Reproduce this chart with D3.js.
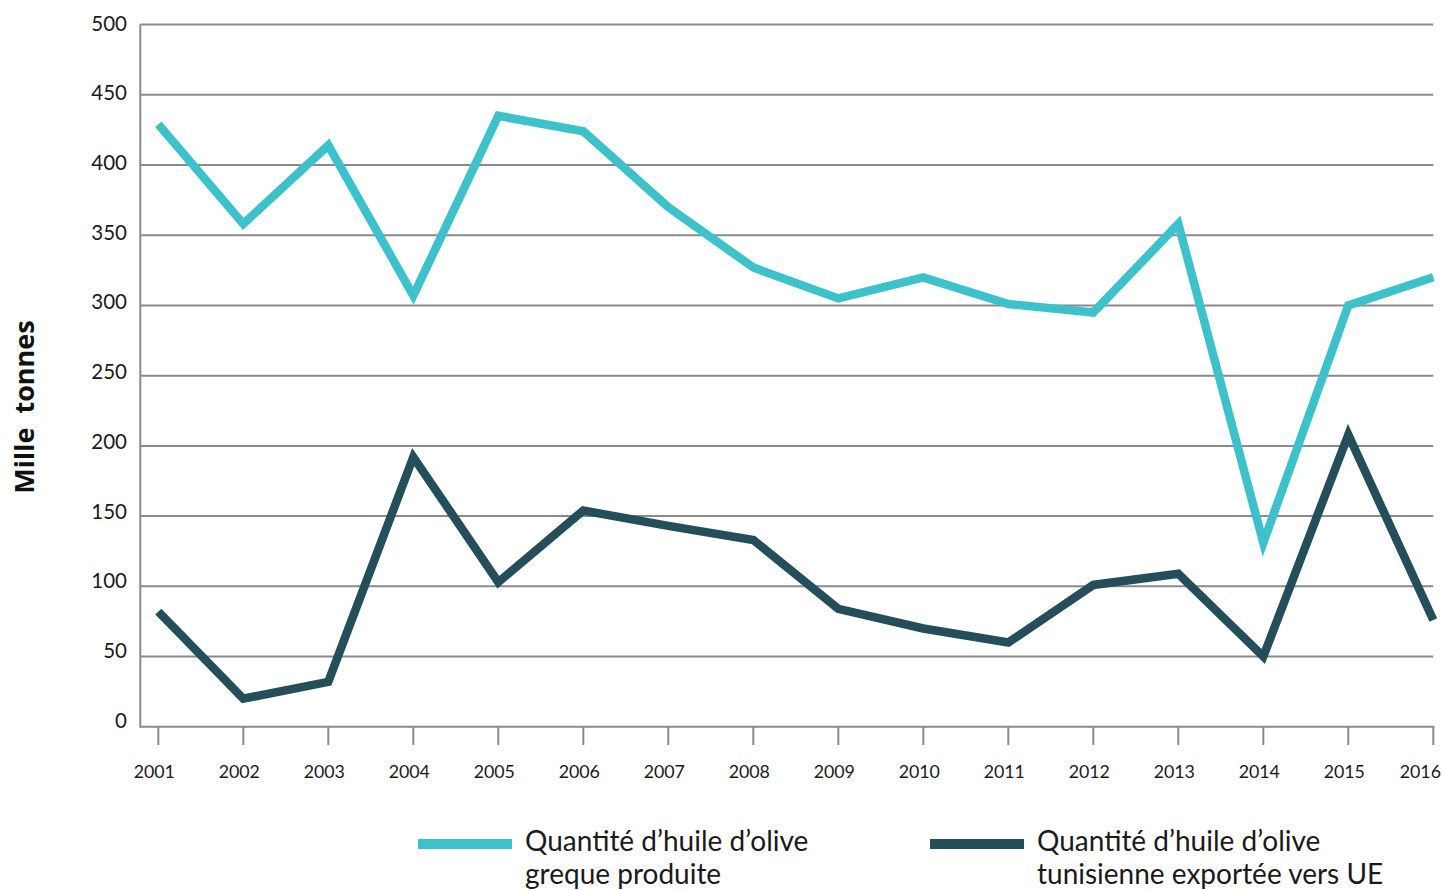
<!DOCTYPE html>
<html><head><meta charset="utf-8">
<script src="https://cdn.jsdelivr.net/npm/d3@7"></script>
<style>body{margin:0;background:#fff}svg{display:block}</style>
</head><body>
<svg id="chart" width="1443" height="890"></svg>
<script>
const years = [2001,2002,2003,2004,2005,2006,2007,2008,2009,2010,2011,2012,2013,2014,2015,2016];
const greekProduction = [429,358,414,307,435,424,370,327,305,320,301,295,358,131,300,320];
const tunisiaExports = [82,20,32,192,103,154,143,133,84,70,60,101,109,50,208,76];
const yTicks = [0,50,100,150,200,250,300,350,400,450,500];
const seriesNames = ["Quantité d’huile d’olive|greque produite","Quantité d’huile d’olive|tunisienne exportée vers UE"];
const colors = ["#3dc2cb","#234e5a"];

const svg = d3.select("#chart");
const x = d3.scaleLinear().domain([2001,2016]).range([158.3,1433.3]);
const y = d3.scaleLinear().domain([0,500]).range([726.8,24.5]);
const yLab = d3.scaleLinear().domain([0,500]).range([720.5,23.5]);
const grid = "#8a8a8a";
const font = "Lato, 'Open Sans', sans-serif";

// gridlines
svg.append("g").selectAll("line").data(yTicks.filter(d=>d>0)).join("line")
  .attr("x1",140).attr("x2",1433.3).attr("y1",d=>y(d)).attr("y2",d=>y(d))
  .attr("stroke",grid).attr("stroke-width",2);
// axes
svg.append("line").attr("x1",140.3).attr("x2",140.3).attr("y1",y(500)).attr("y2",y(0)+1)
  .attr("stroke",grid).attr("stroke-width",2);
svg.append("line").attr("x1",140).attr("x2",1434.3).attr("y1",y(0)).attr("y2",y(0))
  .attr("stroke",grid).attr("stroke-width",2);
svg.append("g").selectAll("line").data(years).join("line")
  .attr("x1",d=>x(d)).attr("x2",d=>x(d)).attr("y1",y(0)).attr("y2",745)
  .attr("stroke",grid).attr("stroke-width",2);

// y labels
svg.append("g").selectAll("text").data(yTicks).join("text")
  .attr("x",127).attr("y",d=>yLab(d)).attr("dy","0.35em")
  .attr("text-anchor","end").attr("font-family",font).attr("font-size",20.5).attr("fill","#1a1a1a")
  .text(d=>d);
// x labels
svg.append("g").selectAll("text").data(years).join("text")
  .attr("x",(d,i)=> i===years.length-1 ? 1441 : x(d)-4)
  .attr("y",778).attr("text-anchor",(d,i)=> i===years.length-1 ? "end":"middle")
  .attr("font-family",font).attr("font-size",17.8).attr("fill","#1a1a1a")
  .text(d=>d);

// y title
svg.append("text").attr("transform","translate(34,407) rotate(-90)")
  .attr("text-anchor","middle").attr("font-family","'Open Sans', sans-serif")
  .attr("font-weight","bold").attr("font-size",27).attr("fill","#111")
  .attr("xml:space","preserve").style("white-space","pre")
  .text("Mille  tonnes");

// lines
const line = d3.line().x((d,i)=>x(years[i])).y(d=>y(d));
[greekProduction,tunisiaExports].forEach((s,k)=>{
  svg.append("path").datum(s).attr("d",line).attr("fill","none")
    .attr("stroke",colors[k]).attr("stroke-width",8.5).attr("stroke-linejoin","miter");
});

// legend
const legX = [418,930];
seriesNames.forEach((n,k)=>{
  svg.append("line").attr("x1",legX[k]).attr("x2",legX[k]+94).attr("y1",844).attr("y2",844)
    .attr("stroke",colors[k]).attr("stroke-width",10);
  const t = svg.append("text").attr("x",legX[k]+107).attr("y",851)
    .attr("font-family",font).attr("font-size",28).attr("fill","#1a1a1a");
  n.split("|").forEach((p,j)=>{
    t.append("tspan").attr("x",legX[k]+107).attr("dy", j===0?0:33).text(p);
  });
});
</script>
</body></html>
